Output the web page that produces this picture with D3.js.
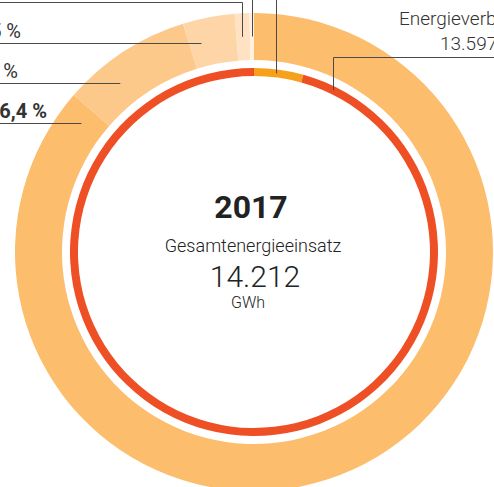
<!DOCTYPE html>
<html>
<head>
<meta charset="utf-8">
<script src="https://cdn.jsdelivr.net/npm/d3@7"></script>
<style>
body { margin: 0; background: #fff; }
text { font-family: Roboto, "Noto Sans", sans-serif; }
</style>
</head>
<body>
<div id="chart"></div>
<script>
// outer ring: shares of the energy input (%)
var outerValues = [86.4, 8.8, 3.5, 1.0, 0.3];
var outerLabels = ["86,4 %", "8,8 %", "3,5 %", "1,0 %", "0,3 %"];
var outerColors = ["#fcbd6d", "#fcc98b", "#fdd5a6", "#fee2c3", "#fff0e0"];

// inner ring: GWh
var innerValues = [615, 13597];
var innerColors = ["#f7a11b", "#ef4f24"];
var innerLabel = "Energieverbrauch";
var innerValueLabel = "13.597 GWh";

var year = "2017";
var totalLabel = "Gesamtenergieeinsatz";
var totalValue = "14.212";
var unit = "GWh";

var width = 494, height = 487;
var cx = 254, cy = 252;
var rOuter = 239, rOuterIn = 192, rInner = 184, rInnerIn = 176;
var rMid = (rOuter + rOuterIn) / 2, rInMid = (rInner + rInnerIn) / 2;

var svg = d3.select("#chart").append("svg")
  .attr("width", width)
  .attr("height", height);

var g = svg.append("g")
  .attr("transform", "translate(" + cx + "," + cy + ")");

var pie = d3.pie().sort(null).value(function(d) { return d; });

var outerArc = d3.arc().innerRadius(rOuterIn).outerRadius(rOuter);
var innerArc = d3.arc().innerRadius(rInnerIn).outerRadius(rInner);

var outerData = pie(outerValues);
var innerData = pie(innerValues);

g.append("g").selectAll("path")
  .data(outerData)
  .enter().append("path")
  .attr("d", outerArc)
  .attr("fill", function(d, i) { return outerColors[i]; });

g.append("g").selectAll("path")
  .data(innerData)
  .enter().append("path")
  .attr("d", innerArc)
  .attr("fill", function(d, i) { return innerColors[i]; });

// leader lines to the left: horizontal line ending on the middle circle of the ring
var leftLabels = [
  { i: 0, y: 123, tx: 47 },
  { i: 1, y: 83, tx: 18 },
  { i: 2, y: 43, tx: 21 }
];
var lines = svg.append("g").attr("stroke", "#4a4a4a").attr("stroke-width", 1).attr("fill", "none");

leftLabels.forEach(function(l) {
  var dy = l.y - cy;
  var x = cx - Math.sqrt(rMid * rMid - dy * dy);
  lines.append("line")
    .attr("x1", 0).attr("x2", x)
    .attr("y1", l.y + 0.5).attr("y2", l.y + 0.5);
  svg.append("text")
    .attr("x", l.tx).attr("y", l.y - 5)
    .attr("text-anchor", "end")
    .attr("font-size", 20)
    .attr("font-weight", l.i == 0 ? 700 : 400)
    .attr("fill", "#333")
    .text(outerLabels[l.i]);
});

// small slices at the top: vertical leader lines going up
function yOnCircle(x, r) {
  var dx = x - cx;
  return cy - Math.sqrt(r * r - dx * dx);
}
var topLines = [
  { x: 242, r: rMid, top: 2, toLeft: true },
  { x: 252, r: rMid, top: -5, toLeft: false },
  { x: 276, r: rInMid, top: -5, toLeft: false }
];
topLines.forEach(function(t) {
  var y0 = yOnCircle(t.x, t.r);
  var p = "M" + (t.x + 0.5) + "," + y0 + "V" + (t.top + 0.5);
  if (t.toLeft) p += "H0";
  lines.append("path").attr("d", p);
});

// leader for Energieverbrauch
var ex = 333;
lines.append("path")
  .attr("d", "M" + (ex + 0.5) + "," + yOnCircle(ex, rInMid) + "V57.5H" + width);

svg.append("text")
  .attr("x", 399).attr("y", 25)
  .attr("font-size", 19).attr("font-weight", 300).attr("fill", "#333")
  .text(innerLabel);
svg.append("text")
  .attr("x", 440).attr("y", 50)
  .attr("font-size", 19).attr("font-weight", 300).attr("fill", "#333")
  .text(innerValueLabel);

// center text
var center = svg.append("g").attr("text-anchor", "middle").attr("fill", "#222");
center.append("text")
  .attr("x", 251).attr("y", 218)
  .attr("font-size", 32).attr("font-weight", 700)
  .text(year);
center.append("text")
  .attr("x", 253).attr("y", 252)
  .attr("font-size", 18).attr("font-weight", 300)
  .text(totalLabel);
center.append("text")
  .attr("x", 255).attr("y", 287)
  .attr("font-size", 30).attr("font-weight", 300)
  .text(totalValue);
center.append("text")
  .attr("x", 248).attr("y", 308)
  .attr("font-size", 16).attr("font-weight", 300)
  .text(unit);
</script>
</body>
</html>
